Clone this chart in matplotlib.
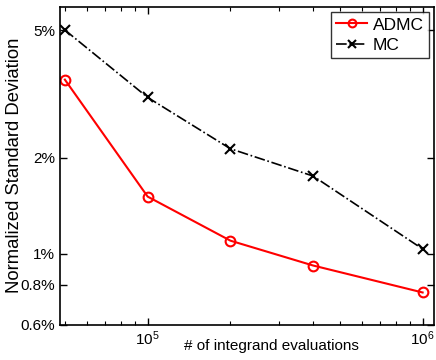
import numpy as np
import matplotlib.pyplot as plt
from matplotlib.ticker import FixedLocator, FixedFormatter, NullLocator, LogLocator

plt.rcParams['font.family'] = ['Liberation Sans', 'DejaVu Sans']

n_evals = [5e4, 1e5, 2e5, 4e5, 1e6]
admc = [3.5, 1.51, 1.10, 0.92, 0.758]
mc = [5.0, 3.08, 2.13, 1.75, 1.036]

ytick_vals = [0.6, 0.8, 1, 2, 5]
ytick_labels = ['0.6%', '0.8%', '1%', '2%', '5%']

fig = plt.figure(figsize=(4.36, 3.6), dpi=100)
ax = fig.add_axes([60/436, 1 - 325/360, 374/436, 318/360])

ax.plot(n_evals, admc, color='red', linewidth=1.5, marker='o', markersize=7,
        markerfacecolor='none', markeredgewidth=1.5, label='ADMC')
ax.plot(n_evals, mc, color='black', linewidth=1.2, linestyle='-.', marker='x',
        markersize=7, markeredgewidth=1.5, label='MC')

ax.set_xscale('log')
ax.set_yscale('log')
ax.set_xlim(4.8e4, 1.1e6)
ax.set_ylim(0.6, 5.9)

ax.yaxis.set_major_locator(FixedLocator(ytick_vals))
ax.yaxis.set_major_formatter(FixedFormatter(ytick_labels))
ax.yaxis.set_minor_locator(NullLocator())
ax.xaxis.set_major_locator(LogLocator(base=10))
ax.xaxis.set_minor_locator(LogLocator(base=10, subs=np.arange(2, 10)))

ax.tick_params(which='both', direction='in', top=True, right=True, labelsize=11)
ax.tick_params(which='major', length=5, width=1)
ax.tick_params(which='minor', length=3, width=0.8)
for s in ax.spines.values():
    s.set_linewidth(1.2)

# x label sits on the same row as the tick labels, like the original
fig.text(271/436, 1 - 346/360, '# of integrand evaluations', fontsize=11,
         ha='center', va='center')
fig.text(15/436, 1 - 165/360, 'Normalized Standard Deviation', fontsize=13.3,
         rotation=90, ha='center', va='center')

leg = ax.legend(loc='upper right', fontsize=12.5, frameon=True, fancybox=False,
                edgecolor='black', handlelength=1.8, borderpad=0.3,
                labelspacing=0.3, handletextpad=0.3, borderaxespad=0.3,
                markerscale=0.8)
leg.get_frame().set_linewidth(1.0)

fig.savefig('out.png', dpi=100)
